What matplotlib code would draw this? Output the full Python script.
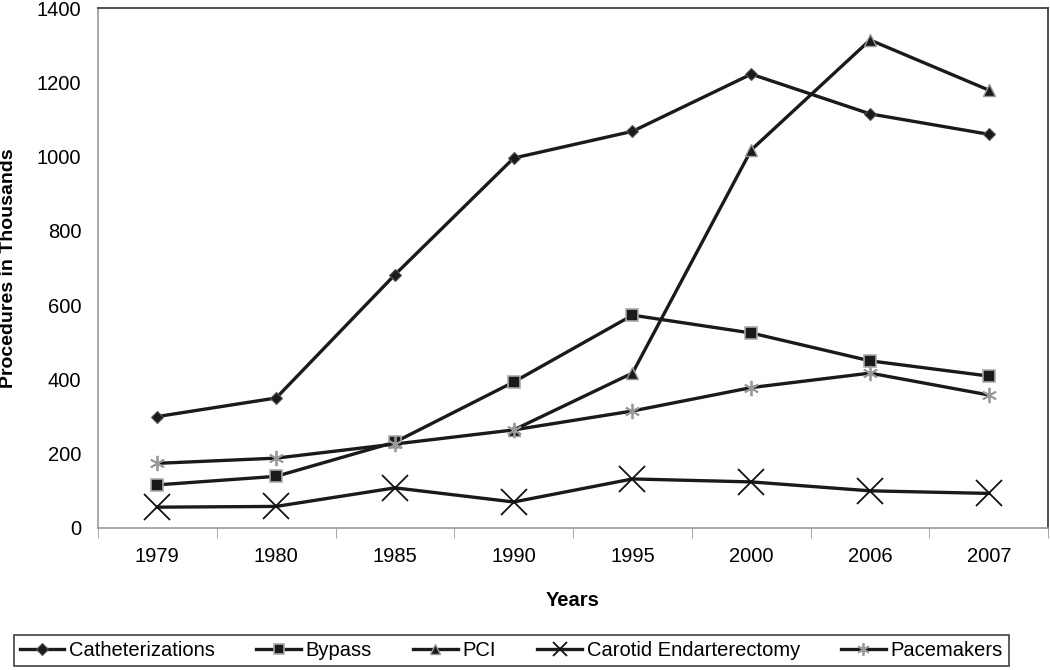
import matplotlib.pyplot as plt
import numpy as np

plt.rcParams['font.family'] = ['Liberation Sans', 'DejaVu Sans']

years = ["1979", "1980", "1985", "1990", "1995", "2000", "2006", "2007"]
catheterizations = [300, 350, 682, 996, 1068, 1222, 1115, 1060]
bypass = [116, 139, 231, 393, 573, 525, 450, 409]
pci = [np.nan, np.nan, np.nan, 264, 417, 1018, 1314, 1179]
carotid = [56, 58, 108, 70, 132, 124, 100, 93]
pacemakers = [174, 188, 226, 264, 315, 378, 417, 358]

fig = plt.figure(figsize=(10.5, 6.7), dpi=100)
ax = fig.add_axes([0.0933, 0.212, 0.905, 0.776])

x = np.arange(len(years))
lw = 2.4
ax.plot(x, catheterizations, color='#1a1a1a', lw=lw, marker='D', ms=6,
        mfc='#1a1a1a', mec='#555555', mew=0.8, label='Catheterizations')
ax.plot(x, bypass, color='#1a1a1a', lw=lw, marker='s', ms=9,
        mfc='#1a1a1a', mec='#aaaaaa', mew=1.2, label='Bypass')
ax.plot(x, pci, color='#1a1a1a', lw=lw, marker='^', ms=9,
        mfc='#1a1a1a', mec='#999999', mew=1.0, label='PCI')
ax.plot(x, carotid, color='#1a1a1a', lw=lw, marker='x', ms=19,
        mec='#111111', mew=1.3, label='Carotid Endarterectomy')
ax.plot(x, pacemakers, color='#1a1a1a', lw=lw, marker=(6, 2, 0), ms=11,
        mec='#999999', mew=1.3, label='Pacemakers')

ax.set_xlim(-0.5, len(years) - 0.5)
ax.set_ylim(0, 1400)
ax.set_yticks(range(0, 1401, 200))
ax.set_xticks(x)
ax.set_xticklabels(years)
ax.set_xticks(np.arange(-0.5, len(years), 1.0), minor=True)
ax.tick_params(axis='x', which='major', length=0, pad=14, labelsize=14.5)
ax.tick_params(axis='x', which='minor', length=7, color='#999999', direction='out')
ax.tick_params(axis='y', length=0, pad=12, labelsize=14.5)

for s in ['left', 'bottom']:
    ax.spines[s].set_color('#999999')
    ax.spines[s].set_linewidth(1.2)
for s in ['top', 'right']:
    ax.spines[s].set_color('#333333')
    ax.spines[s].set_linewidth(1.2)

ax.set_ylabel('Procedures in Thousands', fontsize=14, fontweight='bold', va='center')
ax.yaxis.set_label_coords(-0.094, 0.5)
ax.set_xlabel('Years', fontsize=14.5, fontweight='bold', labelpad=18)

# legend box across the bottom, Excel style
leg = fig.legend(loc='center', bbox_to_anchor=(0.487, 0.0285), ncol=5,
                 fontsize=14.5, frameon=True, fancybox=False, edgecolor='#111111',
                 handlelength=2.2, handletextpad=0.25, columnspacing=2.05,
                 borderpad=0.3)
leg.get_frame().set_linewidth(1.2)
for h, ms in zip(leg.legend_handles, [6, 7, 7, 10, 9]):
    h.set_markersize(ms)

fig.savefig('out.png', dpi=100)
